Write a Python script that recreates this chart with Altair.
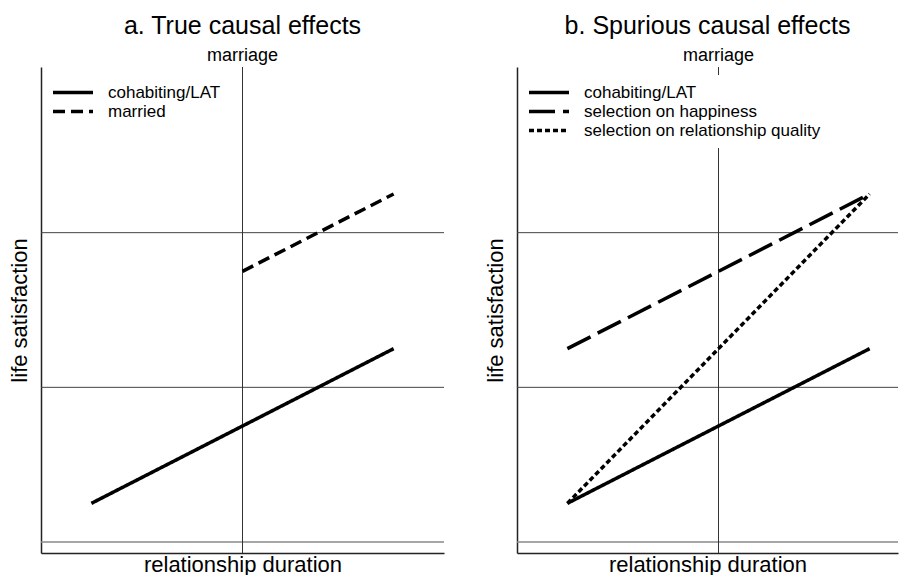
import altair as alt
import pandas as pd

FONT = "Liberation Sans"

# ---- data ----
titles = ["a. True causal effects", "b. Spurious causal effects"]

series_a = ["cohabiting/LAT", "married"]
xs_a = [0.125, 0.5]
xe_a = [0.875, 0.875]
ys_a = [1.25, 2.75]
ye_a = [2.25, 3.25]
dash_a = [[1, 0], [12, 6]]

series_b = ["cohabiting/LAT", "selection on happiness", "selection on relationship quality"]
xs_b = [0.125, 0.125, 0.125]
xe_b = [0.875, 0.875, 0.875]
ys_b = [1.25, 2.25, 1.25]
ye_b = [2.25, 3.25, 3.25]
dash_b = [[1, 0], [26, 8], [5, 3]]

grid_dark = [2, 3]
grid_light = [1]
marriage_x = [0.5]

Y_DOM = [0.929, 4.071]
PLOT_W = 403
PLOT_W_B = 381
PLOT_H = 486

X_AXIS = alt.Axis(
    title="relationship duration", labels=False, ticks=False, grid=False,
    domainColor="#222", domainWidth=1.5, titleFont=FONT, titleFontSize=22,
    titleFontWeight="normal", titleColor="black", titlePadding=1)
Y_AXIS = alt.Axis(
    title="life satisfaction", labels=False, ticks=False, grid=False,
    domainColor="#222", domainWidth=1.5, titleFont=FONT, titleFontSize=22,
    titleFontWeight="normal", titleColor="black", titlePadding=10)


def lines_df(series, xs, xe, ys, ye):
    rows = []
    for s, a, b, c, d in zip(series, xs, xe, ys, ye):
        rows.append({"series": s, "x": a, "y": c})
        rows.append({"series": s, "x": b, "y": d})
    return pd.DataFrame(rows)


def panel(title, series, xs, xe, ys, ye, dashes, width, xmax):
    xsc = alt.Scale(domain=[0, xmax], nice=False, zero=False)
    ysc = alt.Scale(domain=Y_DOM, nice=False, zero=False)

    def X():
        return alt.X("x:Q", scale=xsc, axis=X_AXIS)

    def Y():
        return alt.Y("y:Q", scale=ysc, axis=Y_AXIS)

    g_dark = alt.Chart(pd.DataFrame({"y": grid_dark})).mark_rule(
        color="#444", strokeWidth=1
    ).encode(y=Y())
    g_light = alt.Chart(pd.DataFrame({"y": grid_light})).mark_rule(
        color="#888", strokeWidth=1.5
    ).encode(y=Y())
    vline = alt.Chart(pd.DataFrame({"x": marriage_x})).mark_rule(
        color="#333", strokeWidth=1
    ).encode(x=X())
    tick = alt.Chart(pd.DataFrame({"x": marriage_x})).mark_rule(
        color="#333", strokeWidth=1
    ).encode(x=X(), y=alt.value(0), y2=alt.value(6))
    label = alt.Chart(pd.DataFrame({"x": marriage_x, "t": ["marriage"]})).mark_text(
        font=FONT, fontSize=18, baseline="alphabetic", align="center", color="black"
    ).encode(x=X(), y=alt.value(-6), text="t:N")

    lines = alt.Chart(lines_df(series, xs, xe, ys, ye)).mark_line(
        color="black", strokeWidth=3.5, strokeCap="butt"
    ).encode(
        x=X(),
        y=Y(),
        strokeDash=alt.StrokeDash("series:N", scale=alt.Scale(domain=series, range=dashes),
            sort=series,
            legend=alt.Legend(
                title=None, orient="none", legendX=2, legendY=8, padding=8,
                fillColor="white",
                labelFont=FONT, labelFontSize=17, labelColor="black", labelOffset=13,
                symbolType="stroke", symbolSize=1600, symbolStrokeWidth=3.5,
                symbolStrokeColor="black", rowPadding=0, clipHeight=19, zindex=1,
                labelLimit=400)),
        detail="series:N",
    )

    return alt.layer(g_dark, g_light, vline, tick, label, lines).properties(
        width=width, height=PLOT_H,
        title=alt.TitleParams(title, font=FONT, fontSize=25, fontWeight="normal",
                              anchor="middle", color="black", offset=8),
    )


pa = panel(titles[0], series_a, xs_a, xe_a, ys_a, ye_a, dash_a, PLOT_W, 1.0)
pb = panel(titles[1], series_b, xs_b, xe_b, ys_b, ye_b, dash_b, PLOT_W_B, PLOT_W_B / PLOT_W)

chart = alt.hconcat(pa, pb, spacing=39).resolve_scale(strokeDash="independent").resolve_legend(
    strokeDash="independent").properties(
    padding={"top": 6, "left": 0, "right": 0, "bottom": 0}, background="white"
).configure_view(strokeWidth=0, stroke=None)

chart.save("out.html", embed_options={"renderer": "svg", "actions": False})
